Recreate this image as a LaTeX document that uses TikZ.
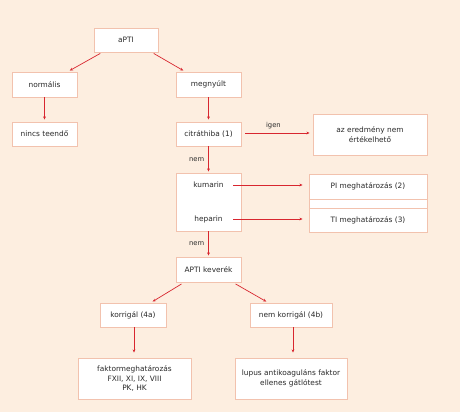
\documentclass[tikz,border=0pt]{standalone}
\usepackage{fontspec}
\setmainfont{DejaVu Sans}
\usetikzlibrary{arrows.meta,calc}
\definecolor{bgc}{HTML}{FDEEE0}
\definecolor{bdc}{HTML}{F2C2AE}
\definecolor{arc}{HTML}{D8262F}
\definecolor{txc}{HTML}{2A2A2A}
\begin{document}
\begin{tikzpicture}[x=1pt,y=-1pt,
  box/.style={draw=bdc,line width=0.9pt,fill=white,text=txc,inner sep=0pt,align=center,
    font=\fontsize{7.4}{9.5}\selectfont},
  plain/.style={text=txc,inner sep=0pt,font=\fontsize{7.4}{9.5}\selectfont},
  lbl/.style={text=txc,inner sep=0pt,font=\fontsize{6.8}{8}\selectfont},
  arr/.style={draw=arc,line width=0.7pt,-{Stealth[length=3.2pt,width=2.8pt]}}]
\fill[bgc] (0,0) rectangle (460,412);
\useasboundingbox (0,0) rectangle (460,412);
% nodes
\node[box,minimum width=64pt,minimum height=24pt] (apti) at (126,40) {aPTI};
\node[box,minimum width=65pt,minimum height=25pt] (norm) at (44.5,84.5) {normális};
\node[box,minimum width=65pt,minimum height=25pt] (megny) at (208.5,84.5) {megnyúlt};
\node[box,minimum width=65pt,minimum height=24pt] (nincs) at (44.5,134) {nincs teendő};
\node[box,minimum width=65pt,minimum height=24pt] (citr) at (208.5,134) {citráthiba (1)};
\node[box,minimum width=114pt,minimum height=41pt] (ered) at (370,134.5) {az eredmény nem\\értékelhető};
\node[box,minimum width=65pt,minimum height=58pt] (kumbox) at (208.5,202) {};
\node[plain] (kum) at (208.5,185) {kumarin};
\node[plain] (hep) at (208.5,219) {heparin};
\node[box,minimum width=118pt,minimum height=58pt] (ptbox) at (368,203) {};
\node[box,minimum width=118pt,minimum height=25pt] (pi) at (368,186.5) {PI meghatározás (2)};
\node[box,minimum width=118pt,minimum height=24pt] (ti) at (368,220) {TI meghatározás (3)};
\node[box,minimum width=65pt,minimum height=25pt] (kev) at (208.5,269.5) {APTI keverék};
\node[box,minimum width=66pt,minimum height=24pt] (korr) at (133,315) {korrigál (4a)};
\node[box,minimum width=82pt,minimum height=24pt] (nkorr) at (291,315) {nem korrigál (4b)};
\node[box,minimum width=113pt,minimum height=41pt] (fakt) at (134.5,378.5) {faktormeghatározás\\FXII, XI, IX, VIII\\PK, HK};
\node[box,minimum width=112pt,minimum height=41pt] (lup) at (291,378.5) {lupus antikoaguláns faktor\\ellenes gátlótest};
% connectors
\draw[arr,shorten <=2pt,shorten >=2pt] ($(apti.south)+(-24,0)$) -- ($(norm.north)+(23.5,0)$);
\draw[arr,shorten <=2pt,shorten >=2pt] ($(apti.south)+(26,0)$) -- ($(megny.north)+(-23.5,0)$);
\draw[arr,shorten >=2pt] (norm) -- (nincs);
\draw[arr,shorten >=2pt] (megny) -- (citr);
\draw[arr,shorten >=1pt] (citr) -- node[lbl,left=4pt] (nem1) {nem} (kumbox);
\draw[arr,shorten <=4pt,shorten >=3pt] (citr.east |- ered.west) ++(0,-1.5) coordinate (c1) (c1) -- (c1 -| ered.west) node[pos=0.45,above=3.5pt,lbl] (igen) {igen};
\draw[arr,shorten >=6pt] ($(kumbox.east |- kum)+(-8,0)$) -- (pi.west |- kum);
\draw[arr,shorten >=6pt] ($(kumbox.east |- hep)+(-8,0)$) -- (ti.west |- hep);
\draw[arr,shorten >=1pt] (kumbox) -- node[lbl,left=4pt] (nem2) {nem} (kev);
\draw[arr,shorten <=3pt,shorten >=2pt] ($(kev.south)+(-24.5,0)$) -- ($(korr.north)+(18,0)$);
\draw[arr,shorten <=3pt,shorten >=2pt] ($(kev.south)+(24.5,0)$) -- ($(nkorr.north)+(-23,0)$);
\draw[arr,shorten >=5pt] ($(korr.south)+(1,0)$) -- ($(fakt.north)+(-0.5,0)$);
\draw[arr,shorten >=5pt] ($(nkorr.south)+(2,0)$) -- ($(lup.north)+(2,0)$);
\end{tikzpicture}
\end{document}
